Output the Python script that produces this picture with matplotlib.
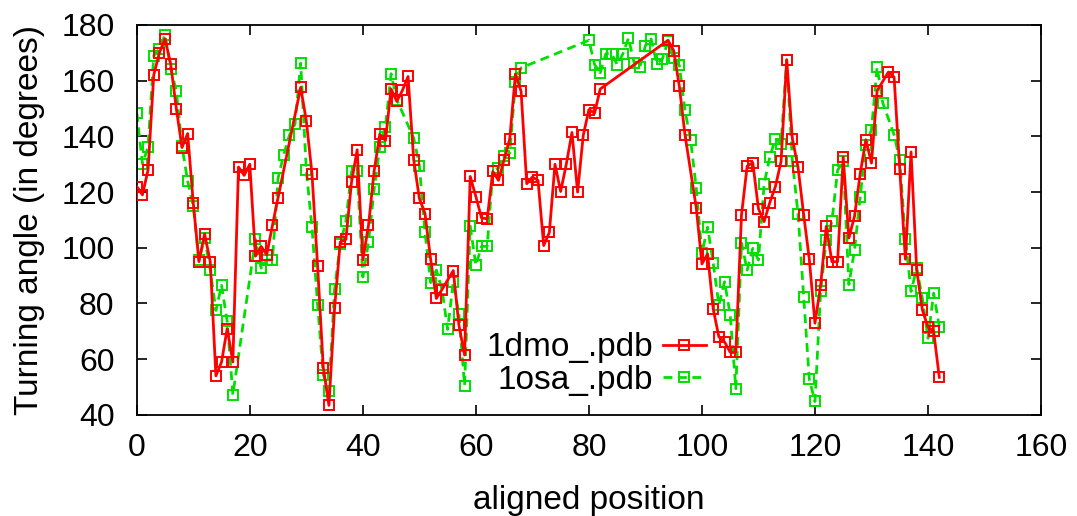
import matplotlib
matplotlib.use("Agg")
import matplotlib.pyplot as plt

# ---- data ----
red_label = "1dmo_.pdb"
green_label = "1osa_.pdb"

red_pos = (list(range(0, 26)) + list(range(29, 55)) + list(range(56, 83))
           + list(range(94, 98)) + list(range(99, 132)) + list(range(133, 143)))
red_val = [122, 119, 128, 162, 170, 175, 166, 150, 136, 141, 116, 95, 105, 95, 54, 59, 71, 59,
           129, 126, 130, 97, 100.5, 97.5, 108, 118,
           157.6, 145.6, 126.6, 93.3, 57, 43.4, 78.3, 102, 103, 123.6, 135.2, 95.7, 108, 127.6,
           140.8, 138.5, 157, 152.6, 156.5, 161.5, 131.6, 117.7, 112.3, 95.8, 81.8, 85,
           91.8, 72.2, 61.5, 125.6, 118.4, 110.7, 110.4, 127.4, 124.2, 131.6, 139.2, 162.4, 156.2,
           123, 125.4, 124.2, 100.8, 105.5, 130, 120.2, 130, 141.4, 120, 140.4, 149.6, 148.3, 157,
           174.5, 170.8, 158, 140.6,
           114.3, 94.2, 97.8, 77.9, 68, 66.2, 62.5, 62.5, 111.8, 129.3, 130.6, 114, 109.4, 116.2,
           122, 131, 167.5, 139.2, 129, 111.9, 95.9, 72.9, 86.5, 107.7, 95, 95, 132.6, 103.5,
           111.3, 126.6, 138.8, 130.4, 156.4,
           163.1, 161.3, 128.3, 95.9, 134.4, 92.1, 77.7, 71.5, 70, 53.5]

green_pos = (list(range(0, 18)) + list(range(21, 47)) + list(range(49, 69))
             + list(range(80, 133)) + list(range(134, 143)))
green_val = [148.4, 130.2, 136.2, 169, 171.4, 176.5, 164.2, 156.4, 136.4, 124, 115, 95.5, 103.5,
             92, 77.5, 86.5, 73.6, 47.2,
             103, 92.7, 95.6, 95.7, 125, 133.4, 140.4, 144.4, 166.3, 127.8, 107.3, 79.3, 54.4,
             48.6, 85.1, 101.4, 109.5, 127.4, 127.4, 89.5, 101.9, 121, 136.2, 143.4, 162.5, 153.2,
             139.4, 129.5, 105.5, 87.5, 92, 85.1, 70.7, 87.6, 76.2, 50.5, 107.8, 93.7, 100.5,
             100.5, 127.7, 128.6, 132.8, 134, 159.4, 164.6,
             174.5, 165.8, 162.8, 169.7, 169.7, 165.8, 169.6, 175.3, 166.4, 164.8,
             172.6, 175, 166.1, 167.8, 174.1, 168, 165.5, 149.3, 138.6, 121.3,
             98, 107.4, 94.4, 79.4, 87.8, 76, 49.4, 101.7, 92, 99.8,
             95.6, 122.8, 132.6, 139.1, 137.3, 167.5, 131.2, 112.2, 82.5, 52.8,
             44.8, 84.3, 102.9, 109.5, 127.8, 131, 86.8, 99.3, 118.2, 137,
             142.4, 164.9, 152,
             140.6, 131.4, 103.2, 84.3, 92.7, 81.9, 67.5, 83.7, 71.7]

x_ticks = [0, 20, 40, 60, 80, 100, 120, 140, 160]
y_ticks = [40, 60, 80, 100, 120, 140, 160, 180]

# ---- plot ----
plt.rcParams['font.family'] = ['Liberation Sans', 'DejaVu Sans']
fig = plt.figure(figsize=(10.77, 5.16), dpi=100)
ax = fig.add_axes([0.127, 0.196, 0.8396, 0.7556])

RED = '#ff0000'
GREEN = '#00e000'

ax.plot(red_pos, red_val, color=RED, lw=2.0, marker='s', ms=6.8, mfc='none',
        mec=RED, mew=1.4, label=red_label, zorder=3)
ax.plot(green_pos, green_val, color=GREEN, lw=2.0, ls=(0, (3.2, 2.0)), marker='s', ms=6.8,
        mfc='none', mec=GREEN, mew=1.4, label=green_label, zorder=2)

ax.set_xlim(0, 160)
ax.set_ylim(40, 180)
ax.set_xticks(x_ticks)
ax.set_yticks(y_ticks)
ax.tick_params(direction='in', length=7, width=1.2, top=True, right=True,
               labelsize=23)
ax.tick_params(axis='x', pad=13)
ax.tick_params(axis='y', pad=16)
for s in ax.spines.values():
    s.set_linewidth(1.3)

ax.set_xlabel("aligned position", fontsize=24, labelpad=16)
ax.set_ylabel("Turning angle (in degrees)", fontsize=24, labelpad=12)

leg = ax.legend(loc='center', bbox_to_anchor=(0.508, 0.13), frameon=False,
                markerfirst=False, fontsize=24, handlelength=1.3, handletextpad=0.3,
                labelspacing=0.05, borderpad=0.1)
for t in leg.get_texts():
    t.set_ha('right')

fig.savefig("out.png", dpi=100)
